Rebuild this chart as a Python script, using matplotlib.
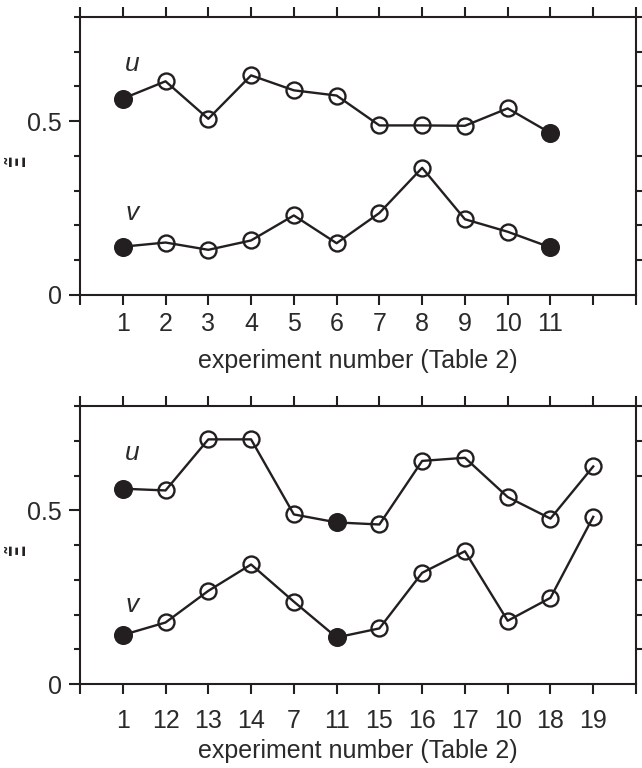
import matplotlib
matplotlib.use("Agg")
import matplotlib.pyplot as plt
from matplotlib.ticker import MultipleLocator, FixedLocator
import numpy as np

plt.rcParams['font.family'] = ['Liberation Sans', 'DejaVu Sans']

# ---- data ----
top_labels = ["1", "2", "3", "4", "5", "6", "7", "8", "9", "10", "11"]
top_u = [0.565, 0.615, 0.507, 0.632, 0.589, 0.574, 0.488, 0.488, 0.487, 0.537, 0.466]
top_v = [0.139, 0.151, 0.130, 0.157, 0.229, 0.149, 0.236, 0.366, 0.218, 0.182, 0.137]
top_filled = ["1", "11"]

bot_labels = ["1", "12", "13", "14", "7", "11", "15", "16", "17", "10", "18", "19"]
bot_u = [0.562, 0.557, 0.704, 0.704, 0.488, 0.465, 0.459, 0.642, 0.651, 0.538, 0.476, 0.626]
bot_v = [0.141, 0.177, 0.268, 0.344, 0.237, 0.134, 0.160, 0.320, 0.382, 0.182, 0.248, 0.481]
bot_filled = ["1", "11"]

xlabel = "experiment number (Table 2)"
ylabel = r"$\tilde{\mathbf{\Xi}}$"

C = "#231f20"
TXT = "#2a2a2a"
fig = plt.figure(figsize=(6.42, 7.68), dpi=100)
ax1 = fig.add_axes([80/642, 1-295/768, 556/642, 278/768])
ax2 = fig.add_axes([80/642, 1-684/768, 556/642, 278/768])

def draw(ax, labels, u, v, filled, vlab_y, xpad, lpad):
    x = np.arange(1, len(labels) + 1)
    for series in (u, v):
        ax.plot(x, series, color=C, lw=1.7, zorder=2)
        for xi, yi, lab in zip(x, series, labels):
            isf = lab in filled
            ax.plot([xi], [yi], marker='o', ms=12 if isf else 11.5, mew=1.7,
                    mfc=C if isf else 'none', mec=C, ls='none', zorder=3)
    ax.set_xlim(0, 13)
    ax.set_ylim(0, 0.8)
    ax.xaxis.set_major_locator(FixedLocator(np.arange(0, 14)))
    ax.set_xticklabels([""] + labels + [""] * (13 - len(labels)))
    ax.yaxis.set_major_locator(FixedLocator([0, 0.5]))
    ax.set_yticklabels(["0", "0.5"])
    ax.yaxis.set_minor_locator(MultipleLocator(0.1))
    ax.tick_params(axis='x', which='major', direction='out', length=7.5, width=1.5,
                   top=True, bottom=True, labelsize=18, pad=xpad, colors=C, labelcolor=TXT)
    ax.tick_params(axis='y', which='major', direction='out', length=8, width=1.5,
                   left=True, right=False, labelsize=18, pad=5, colors=C, labelcolor=TXT)
    ax.tick_params(axis='y', which='minor', direction='out', length=4, width=1.5,
                   left=True, right=True, colors=C)
    for s in ax.spines.values():
        s.set_linewidth(1.5)
        s.set_color(C)
    ax.set_xlabel(xlabel, fontsize=18, color=TXT, labelpad=lpad)
    ax.set_ylabel(ylabel, fontsize=15, color=C)
    ax.yaxis.set_label_coords(-0.089, 0.478)
    ax.text(1.23, 0.664, "u", style='italic', fontsize=19, color=TXT, ha='center', va='center')
    ax.text(1.23, vlab_y, "v", style='italic', fontsize=19, color=TXT, ha='center', va='center')

draw(ax1, top_labels, top_u, top_v, top_filled, 0.237, 5, 9)
draw(ax2, bot_labels, bot_u, bot_v, bot_filled, 0.227, 10.5, 4)

fig.savefig("out.png", dpi=100)
